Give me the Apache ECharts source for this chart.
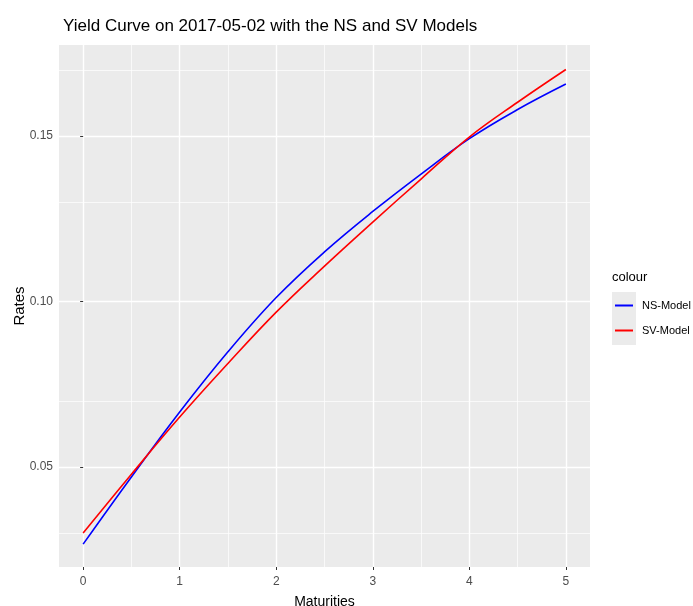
<!DOCTYPE html>
<html><head><meta charset="utf-8">
<script src="https://cdn.jsdelivr.net/npm/echarts@6/dist/echarts.min.js"></script>
<style>html,body{margin:0;padding:0;background:#fff}#c{width:693px;height:606px}</style>
</head><body><div id="c"></div>
<script>
const maturities = [0, 0.5, 1, 1.5, 2, 2.5, 3, 3.5, 4, 4.5, 5];
const nsRates = [0.0267, 0.0470, 0.0666, 0.0848, 0.1012, 0.1150, 0.1272, 0.1385, 0.1492, 0.1580, 0.1657];
const svRates = [0.0301, 0.0478, 0.0651, 0.0813, 0.0968, 0.1107, 0.1240, 0.1370, 0.1497, 0.1602, 0.1701];
const xTicks = [0, 1, 2, 3, 4, 5];
const xMinor = [0.5, 1.5, 2.5, 3.5, 4.5];
const yTicks = [0.05, 0.10, 0.15];
const yMinor = [0.025, 0.075, 0.125, 0.175];
const seriesNames = ['NS-Model', 'SV-Model'];

const SANS = '"Liberation Sans", Arial, sans-serif';
const chart = echarts.init(document.getElementById('c'), null, {renderer: 'canvas'});

function gridLines(vals, axis, width) {
  return vals.map(v => ({[axis]: v, lineStyle: {color: '#ffffff', width: width, type: 'solid'}}));
}

chart.setOption({
  animation: false,
  backgroundColor: '#ffffff',
  title: {
    text: 'Yield Curve on 2017-05-02 with the NS and SV Models',
    left: 58, top: 13,
    textStyle: {fontFamily: SANS, fontSize: 17, fontWeight: 'normal', color: '#000000'}
  },
  grid: {left: 59, right: 103, top: 45, bottom: 39, show: true, backgroundColor: '#EBEBEB', borderWidth: 0, outerBoundsMode: 'none', containLabel: false},
  legend: {
    data: seriesNames,
    orient: 'vertical', left: 615, top: 298,
    icon: 'rect', itemWidth: 18, itemHeight: 2, itemGap: 10,
    textStyle: {fontFamily: SANS, fontSize: 11, color: '#000000', lineHeight: 15, padding: [0, 0, 0, 4]},
    padding: 0, selectedMode: false
  },
  graphic: [
    {type: 'rect', left: 612, top: 292, shape: {width: 24, height: 53}, style: {fill: '#EBEBEB'}, z: -1},
    {type: 'text', left: 612, top: 271, style: {text: 'colour', font: '13px ' + SANS, fill: '#000000'}}
  ],
  xAxis: {
    type: 'value', min: -0.25, max: 5.25,
    name: 'Maturities', nameLocation: 'middle', nameGap: 28, nameMoveOverlap: false,
    nameTextStyle: {fontFamily: SANS, fontSize: 14, color: '#000000'},
    axisLine: {show: false},
    axisTick: {show: true, length: 3, lineStyle: {color: '#333333', width: 1}, customValues: xTicks},
    axisLabel: {customValues: xTicks, fontFamily: SANS, fontSize: 12, color: '#4D4D4D', margin: 9, formatter: v => String(v)},
    splitLine: {show: false}
  },
  yAxis: {
    type: 'value', min: 0.0198, max: 0.1775,
    name: 'Rates', nameLocation: 'middle', nameGap: 32, nameRotate: 90, nameMoveOverlap: false,
    nameTextStyle: {fontFamily: SANS, fontSize: 15, color: '#000000'},
    axisLine: {show: false},
    axisTick: {show: true, length: 3, lineStyle: {color: '#333333', width: 1}, customValues: yTicks},
    axisLabel: {customValues: yTicks, fontFamily: SANS, fontSize: 12, color: '#4D4D4D', margin: 6, formatter: v => v.toFixed(2)},
    splitLine: {show: false}
  },
  series: [
    {
      type: 'line', name: '__grid', data: [], silent: true, z: 0, zlevel: 0,
      markLine: {
        silent: true, z: 0, symbol: ['none', 'none'], label: {show: false}, animation: false,
        data: [].concat(
          gridLines(xMinor, 'xAxis', 0.7),
          gridLines(yMinor, 'yAxis', 0.7),
          gridLines(xTicks, 'xAxis', 1.4),
          gridLines(yTicks, 'yAxis', 1.4)
        )
      }
    },
    {
      type: 'line', name: seriesNames[0], smooth: 0.4, showSymbol: false, z: 5,
      data: maturities.map((m, i) => [m, nsRates[i]]),
      lineStyle: {color: '#0000FF', width: 1.6}, itemStyle: {color: '#0000FF'}
    },
    {
      type: 'line', name: seriesNames[1], smooth: 0.4, showSymbol: false, z: 5,
      data: maturities.map((m, i) => [m, svRates[i]]),
      lineStyle: {color: '#FF0000', width: 1.6}, itemStyle: {color: '#FF0000'}
    }
  ]
});
</script>
</body></html>
